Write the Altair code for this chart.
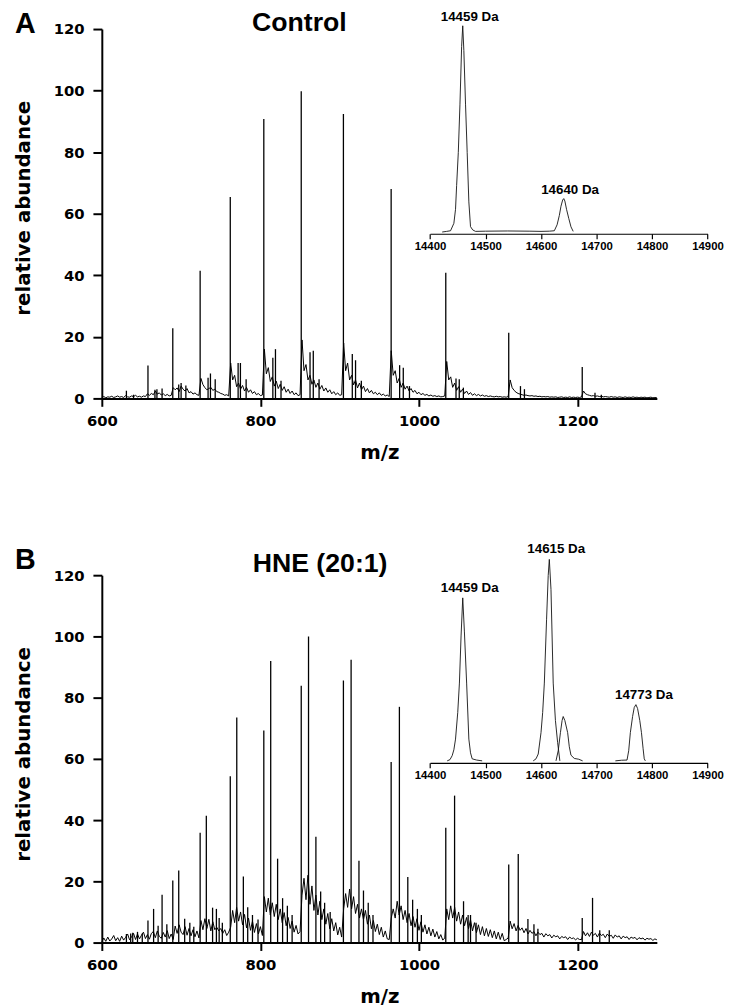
import altair as alt
import pandas as pd

# ---------------- main spectra: sticks (peak m/z, relative height) ----------------
A_PEAK_MZ = [631, 640, 658.2, 667, 669.5, 676, 689.5, 697, 700, 706, 724, 734, 737, 743,
             762, 771.9, 774.8, 782, 804.3, 815.7, 819, 826, 851.5, 862.6, 866.7, 874,
             904.7, 915.9, 920, 927.3, 964.9, 975.6, 980.2, 988, 1033.8, 1046.7, 1050.8,
             1056, 1113.2, 1128, 1133, 1205.9, 1222, 1230]
A_PEAK_H = [2.5, 1.2, 10.7, 2.8, 3.0, 3.2, 22.8, 4.5, 5.0, 4.2, 41.5, 6.7, 8.1, 6.2,
            65.4, 11.5, 11.5, 6.2, 90.8, 13.2, 16.0, 5.7, 99.8, 15.0, 15.5, 6.2,
            92.4, 14.4, 12.4, 5.7, 68.0, 10.8, 10.0, 4.0, 40.8, 6.5, 6.2,
            3.5, 21.3, 4.0, 3.0, 10.2, 1.8, 1.2]

B_PEAK_MZ = [631, 636.4, 639, 645, 651, 658.2, 665.3, 671, 676, 682, 689.5, 697.0, 704.5,
             711, 716, 724.0, 731.8, 739.7, 744.5, 748, 752, 762.0, 770.2, 778.5, 784,
             790, 797, 804.3, 813.0, 821.7, 828, 834, 840, 851.5, 860.7, 870.0, 876,
             881, 888, 904.7, 914.4, 924.3, 930, 936, 942, 964.9, 975.3, 985.9, 992,
             998, 1003, 1033.8, 1044.9, 1056.2, 1062, 1065, 1072, 1113.2, 1125.2, 1137.4,
             1145, 1150, 1205.9, 1218.9, 1228, 1240]
B_PEAK_H = [2.8, 3.0, 3.2, 3.5, 3.0, 7.2, 11.0, 5.5, 15.6, 6.0, 20.3, 23.5, 7.8,
            6.5, 5.2, 35.9, 41.4, 11.4, 11.0, 8.0, 6.5, 54.3, 73.5, 21.6, 11.5,
            9.0, 7.5, 69.3, 92.0, 27.4, 14.5, 12.0, 9.0, 83.9, 100.0, 34.6, 16.7,
            13.0, 10.0, 85.6, 92.4, 26.7, 17.0, 13.0, 9.0, 59.0, 77.0, 21.4, 14.0,
            11.0, 9.0, 37.5, 48.0, 13.5, 9.0, 9.0, 6.5, 25.5, 28.9, 7.7,
            6.0, 4.5, 8.0, 14.6, 4.0, 4.0]

# ---------------- main spectra: baseline read every 2.5 m/z from 600 ----------------
BASE_START = 600
BASE_STEP = 2.5
A_BASE = [
    0.3, 0.6, 0.2, 0.5, 0.4, 0.7, 0.3, 0.5, 0.8, 0.4, 0.6, 0.3, 0.9, 0.5, 0.4, 0.8, 0.6, 1.0, 0.5, 0.7, 0.4, 0.8, 0.6,
    1.5, 1.0, 1.6, 1.2, 2.4, 1.4, 1.8, 1.1, 1.5, 0.9, 1.3, 0.8, 1.0,
    3.5, 2.8, 3.4, 2.2, 4.0, 3.0, 2.4, 3.2, 1.8, 2.2, 1.4, 1.8, 1.2, 1.0,
    6.5, 4.5, 3.5, 2.8, 3.2, 3.6, 2.6, 3.0, 2.2, 2.0, 1.6, 1.4, 1.0, 1.2, 0.8,
    11.5, 6.0, 7.5, 3.8, 5.0, 3.0, 4.2, 2.4, 3.6, 2.0, 2.8, 1.6, 2.2, 1.2, 1.6, 0.9, 1.1,
    16.0, 8.0, 10.0, 5.5, 7.0, 4.0, 5.6, 3.2, 4.6, 2.6, 3.8, 2.0, 3.0, 1.6, 2.4, 1.2, 1.8, 0.9, 1.2,
    19.0, 9.0, 11.0, 6.0, 7.5, 4.6, 6.0, 3.6, 5.0, 3.0, 4.2, 2.4, 3.4, 2.0, 2.8, 1.5, 2.2, 1.2, 1.8, 1.0, 1.2,
    18.0, 9.0, 11.5, 6.0, 7.5, 4.4, 6.0, 3.4, 5.0, 2.8, 4.0, 2.2, 3.2, 1.8, 2.6, 1.5, 2.0, 1.2, 1.8, 1.0, 1.4, 0.8, 1.1, 0.6,
    15.5, 7.5, 9.0, 5.0, 6.5, 3.6, 5.0, 3.0, 4.0, 2.4, 3.2, 2.0, 2.6, 1.5, 2.0, 1.2, 1.6, 1.0, 1.3, 0.8, 1.1, 0.7, 0.9, 0.6, 0.8, 0.5, 0.6,
    0.8, 12.0, 6.0, 7.0, 3.6, 5.0, 2.6, 3.8, 2.0, 3.0, 1.6, 2.4, 1.3, 1.9, 1.0, 1.5, 0.9, 1.3, 0.8, 1.1, 0.7, 0.9, 0.6, 0.8, 0.6, 0.5, 0.7, 0.5, 0.6, 0.4, 0.5, 0.4,
    0.6, 6.0, 3.5, 2.6, 2.0, 1.6, 1.4, 1.2, 1.0, 1.1, 0.9, 0.8, 0.9, 0.7, 0.8, 0.6, 0.7, 0.5, 0.6, 0.5, 0.6, 0.4, 0.5, 0.4, 0.5, 0.3, 0.4, 0.5, 0.3, 0.4, 0.3, 0.5, 0.3, 0.4, 0.3, 0.4, 0.3,
    0.5, 2.4, 1.5, 1.2, 1.0, 0.8, 0.9, 0.7, 0.8, 0.6, 0.7, 0.5, 0.6, 0.5, 0.4, 0.6, 0.4, 0.5, 0.3, 0.5, 0.4, 0.3, 0.5, 0.3, 0.4, 0.3, 0.5, 0.3, 0.4, 0.2, 0.4, 0.3, 0.4, 0.2, 0.3, 0.4, 0.2, 0.3, 0.2,
]
B_BASE = [
    0.2, 1.5, 0.4, 1.8, 0.5, 1.2, 2.3, 0.6, 1.6, 0.4, 2.1, 0.8, 1.7, 2.8, 0.9, 1.9, 3.0,
    1.0, 2.8, 1.2, 2.4, 3.4, 1.3, 2.6, 1.1, 3.0, 3.6, 1.6, 3.8, 2.0, 1.4, 3.3, 1.8, 3.9, 1.3, 2.8, 1.0,
    5.4, 3.0, 5.8, 3.4, 2.6, 5.2, 2.4, 4.6, 2.2, 4.2, 1.9, 3.8, 1.5,
    7.2, 4.2, 7.8, 4.6, 7.6, 3.8, 6.8, 4.2, 5.0, 3.8, 4.6, 3.0, 4.2, 2.3, 3.4,
    5.0, 10.5, 6.5, 11.5, 7.0, 10.0, 5.8, 9.2, 4.8, 8.0, 4.0, 7.0, 3.3, 6.2, 2.8, 5.2, 2.3,
    15.0, 10.0, 14.5, 9.0, 13.0, 8.5, 12.5, 7.5, 11.0, 6.5, 9.8, 5.5, 8.2, 4.6, 7.0, 3.4, 5.6, 2.8, 3.6,
    15.5, 21.0, 14.0, 22.0, 12.5, 18.5, 10.5, 15.5, 9.0, 13.5, 7.5, 11.0, 6.0, 9.5, 4.5, 7.8, 3.8, 6.5, 2.5, 5.0, 1.8,
    11.0, 16.0, 11.5, 17.5, 11.0, 15.0, 9.5, 12.5, 8.0, 11.0, 7.5, 10.5, 6.0, 9.0, 4.5, 7.2, 3.6, 6.0, 2.6, 5.0, 1.8, 3.8, 1.2, 1.0,
    8.0, 11.0, 8.0, 13.5, 9.0, 12.0, 7.5, 10.5, 6.5, 9.5, 5.5, 8.5, 5.0, 7.8, 4.0, 6.8, 3.4, 5.8, 2.8, 5.0, 2.2, 4.4, 1.8, 3.6, 1.2, 2.6, 0.8,
    1.5, 11.0, 7.5, 12.0, 8.0, 11.5, 7.0, 10.0, 6.0, 9.0, 5.5, 8.2, 4.5, 7.5, 3.8, 6.5, 3.2, 5.8, 2.6, 5.2, 2.2, 4.6, 2.0, 4.2, 1.6, 3.8, 1.2, 3.4, 1.0, 3.0, 0.6, 1.0,
    1.5, 7.0, 4.5, 6.2, 3.8, 5.6, 4.0, 4.8, 3.2, 4.6, 2.8, 4.0, 3.0, 3.6, 2.2, 3.4, 2.6, 3.0, 1.8, 2.9, 2.2, 2.6, 1.5, 2.4, 1.9, 2.2, 1.2, 2.0, 1.6, 1.9, 1.0, 1.8, 1.3, 1.5, 0.9, 1.4, 1.0,
    1.0, 3.6, 2.2, 3.2, 2.0, 3.4, 2.4, 3.0, 1.8, 3.1, 2.3, 2.7, 1.6, 2.8, 2.0, 2.4, 1.4, 2.5, 1.8, 2.2, 1.2, 2.1, 1.6, 1.9, 1.0, 1.8, 1.4, 1.7, 0.9, 1.6, 1.2, 1.5, 0.8, 1.4, 1.1, 1.3, 0.7, 1.2, 0.9,
]

# ---------------- insets: deconvoluted mass spectra ----------------
INS_A_MASS = [14422, 14430, 14437, 14443, 14446, 14448, 14451, 14454, 14457, 14459, 14461,
              14464, 14467, 14470, 14473, 14477, 14482, 14500, 14540, 14580, 14600, 14615,
              14624, 14629, 14633, 14636, 14639, 14641, 14643, 14646, 14650, 14654, 14658]
INS_A_INT = [0, 0.3, 0.6, 4.2, 11, 22.6, 38.6, 62, 90, 100, 88,
             62, 38.6, 14.6, 2.6, 1.0, 0.3, 0.4, 0.5, 0.4, 0.3, 0.4,
             0.6, 3.5, 8, 12.5, 15.5, 16.2, 15, 11, 6.6, 2.5, 0.3]
INS_A_SEG = [1] * len(INS_A_MASS)

INS_B_MASS = [14431, 14436, 14440, 14443, 14446, 14450, 14453, 14456, 14459, 14462, 14466,
              14470, 14473, 14476, 14484, 14494,
              14586, 14591, 14595, 14600, 14603, 14606, 14610, 14613, 14615, 14618, 14622,
              14626, 14630, 14634,
              14627, 14631, 14635, 14638, 14640, 14643, 14648, 14651, 14654, 14660, 14668, 14675,
              14734, 14745, 14755, 14758, 14761, 14765, 14768, 14771, 14774, 14778, 14781,
              14784, 14786, 14788]
INS_B_INT = [0, 0.6, 2.6, 5.5, 10.8, 24, 38.6, 62, 80.9, 64, 38.6,
             10.8, 4, 1, 0.4, 0,
             0, 1, 3.4, 14, 24, 38.6, 70, 92, 100, 85, 38.6,
             20, 9, 0,
             0, 5, 14, 20, 22, 20, 14, 7, 2.8, 1.2, 0.8, 0,
             0, 0.3, 0.4, 5, 14, 22, 26.5, 27.9, 26, 20, 14,
             6, 1, 0]
INS_B_SEG = [1] * 16 + [2] * 14 + [3] * 12 + [4] * 14

A_LAB_MASS = [14459, 14640]
A_LAB_INT = [100, 16.2]
A_LAB_TEXT = ["14459 Da", "14640 Da"]
B_LAB_MASS = [14459, 14615, 14773]
B_LAB_INT = [80.9, 100, 27.9]
B_LAB_TEXT = ["14459 Da", "14615 Da", "14773 Da"]

X_TICKS = [600, 800, 1000, 1200]
Y_TICKS = [0, 20, 40, 60, 80, 100, 120]
INSET_TICKS = [14400, 14500, 14600, 14700, 14800, 14900]

W = 562
AX_FONT = "DejaVu Sans"
TXT_FONT = "Liberation Sans"


def panel(letter, title, title_x, title_y, letter_y, peak_mz, peak_h, base,
          ins_mass, ins_int, ins_seg, lab_mass, lab_int, lab_text,
          height, ins_yrange, ins_offset, lab_dy):
    base_df = pd.DataFrame({"mz": [BASE_START + BASE_STEP * i for i in range(len(base))],
                            "h": base})
    peak_df = pd.DataFrame({"mz": peak_mz, "h": peak_h})
    ins_df = pd.DataFrame({"mass": ins_mass, "int": ins_int, "seg": ins_seg})
    lab_df = pd.DataFrame({"mass": lab_mass, "int": lab_int, "label": lab_text})

    xs = alt.Scale(domain=[600, 1300], nice=False, zero=False)
    ys = alt.Scale(domain=[0, 120], nice=False, zero=True)
    xaxis = alt.Axis(values=X_TICKS, format="d", title="m/z", titleFont=AX_FONT,
                     titleFontSize=20, titleFontWeight="bold", titlePadding=15,
                     labelFont=AX_FONT, labelFontSize=15, labelFontWeight="bold",
                     labelFlush=False, tickSize=8, labelPadding=7,
                     domainWidth=2, tickWidth=2, domainColor="black", tickColor="black",
                     labelColor="black", titleColor="black", grid=False)
    yaxis = alt.Axis(values=Y_TICKS, title="relative abundance", titleFont=AX_FONT,
                     titleFontSize=20, titleFontWeight="bold", titleX=-73, titleY=181,
                     titleBaseline="alphabetic", titleAngle=270, labelFont=AX_FONT,
                     labelFontSize=15, labelFontWeight="bold", labelFlush=False,
                     tickSize=9, labelPadding=9,
                     domainWidth=2, tickWidth=2, domainColor="black", tickColor="black",
                     labelColor="black", titleColor="black", grid=False)

    base_line = alt.Chart(base_df).mark_line(color="black", strokeWidth=1).encode(
        x=alt.X("mz:Q", scale=xs, axis=xaxis),
        y=alt.Y("h:Q", scale=ys, axis=yaxis),
    )
    sticks = alt.Chart(peak_df).mark_rule(color="black", strokeWidth=1.3).encode(
        x=alt.X("mz:Q", scale=xs, axis=xaxis),
        y=alt.Y("h:Q", scale=ys, axis=yaxis),
        y2=alt.datum(0),
    )

    ixs = alt.Scale(domain=[14400, 14900], range=[332.3, 613.3], nice=False, zero=False)
    iys = alt.Scale(domain=[0, 100], range=ins_yrange, nice=False, zero=False)
    iaxis = alt.Axis(orient="bottom", offset=ins_offset, values=INSET_TICKS, format="d",
                     title=None, labelFont=TXT_FONT, labelFontSize=11.5,
                     labelFontWeight="bold", labelFlush=False, tickSize=5, labelPadding=2,
                     domainWidth=1.2, tickWidth=1.2, domainColor="black",
                     tickColor="black", labelColor="black", grid=False)
    ins_line = alt.Chart(ins_df).mark_line(color="#111111", strokeWidth=0.9).encode(
        x=alt.X("mass:Q", scale=ixs, axis=iaxis),
        y=alt.Y("int:Q", scale=iys, axis=None),
        detail="seg:N",
    )
    ins_text = alt.Chart(lab_df).mark_text(
        font=TXT_FONT, fontSize=13.5, fontWeight="bold", dx=7, dy=lab_dy,
        baseline="alphabetic", align="center", color="black"
    ).encode(
        x=alt.X("mass:Q", scale=ixs, axis=iaxis),
        y=alt.Y("int:Q", scale=iys, axis=None),
        text="label:N",
    )

    letter_mark = alt.Chart(pd.DataFrame({"t": [letter]})).mark_text(
        font=TXT_FONT, fontSize=29, fontWeight="bold", align="left",
        baseline="alphabetic", color="black"
    ).encode(x=alt.value(-88), y=alt.value(letter_y), text="t:N")
    title_mark = alt.Chart(pd.DataFrame({"t": [title]})).mark_text(
        font=TXT_FONT, fontSize=27, fontWeight="bold", align="center",
        baseline="alphabetic", color="black"
    ).encode(x=alt.value(title_x), y=alt.value(title_y), text="t:N")

    return alt.layer(
        alt.layer(base_line, sticks),
        alt.layer(ins_line, ins_text),
        letter_mark,
        title_mark,
    ).resolve_scale(x="independent", y="independent").properties(width=W, height=height)


pA = panel("A", "Control", 200, 2, 4, A_PEAK_MZ, A_PEAK_H, A_BASE,
           INS_A_MASS, INS_A_INT, INS_A_SEG, A_LAB_MASS, A_LAB_INT, A_LAB_TEXT,
           374, [205.5, -3.3], -166.7, -5)
pB = panel("B", "HNE (20:1)", 221, -3, -6, B_PEAK_MZ, B_PEAK_H, B_BASE,
           INS_B_MASS, INS_B_INT, INS_B_SEG, B_LAB_MASS, B_LAB_INT, B_LAB_TEXT,
           372, [188, -16], -182, -6)

chart = alt.vconcat(pA, pB, spacing=81).properties(
    padding={"left": 6, "top": -5, "right": 0, "bottom": 0}
).configure_view(strokeWidth=0).configure_axis(grid=False)

chart.save("out.html", embed_options={"renderer": "svg", "actions": False})
